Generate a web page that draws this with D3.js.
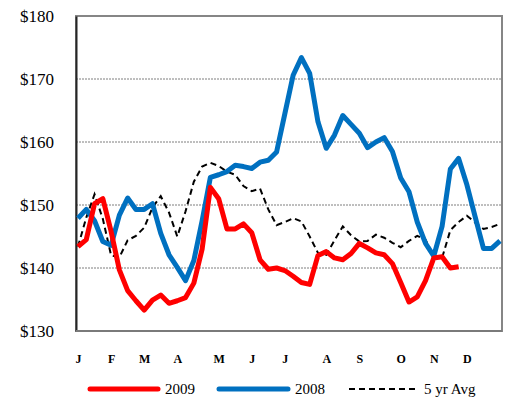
<!DOCTYPE html>
<html>
<head>
<meta charset="utf-8">
<script src="https://cdnjs.cloudflare.com/ajax/libs/d3/7.8.5/d3.min.js"></script>
<style>
  html, body { margin: 0; padding: 0; background: #fff; }
  svg { display: block; }
  svg text { font-family: "Liberation Serif", "Times New Roman", Times, serif; fill: #000; }
</style>
</head>
<body>
<div id="chart"></div>
<script>
// Weekly prices, week 0 = first week of January
const monthLabels = ["J", "F", "M", "A", "M", "J", "J", "A", "S", "O", "N", "D"];
const monthWeeks  = [0, 4, 8, 12, 17, 21, 25, 30, 34, 39, 43, 47];
const yTicks = [130, 140, 150, 160, 170, 180];

const series2009 = [143.4, 144.5, 150.2, 151.0, 145.8, 139.7, 136.4, 134.8, 133.3, 134.9,
  135.7, 134.4, 134.8, 135.3, 137.6, 143.0, 152.8, 151.0, 146.2, 146.2,
  147.0, 145.6, 141.3, 139.8, 140.0, 139.6, 138.7, 137.7, 137.4, 142.0,
  142.6, 141.6, 141.3, 142.3, 143.9, 143.2, 142.4, 142.1, 140.7, 137.7,
  134.6, 135.4, 138.0, 141.6, 141.8, 140.0, 140.2];

const series2008 = [147.9, 149.3, 147.5, 144.2, 143.6, 148.4, 151.1, 149.3, 149.3, 150.2,
  145.5, 142.1, 140.1, 138.0, 141.2, 147.5, 154.4, 154.8, 155.3, 156.3,
  156.1, 155.8, 156.8, 157.1, 158.4, 164.5, 170.6, 173.4, 170.9, 163.2,
  159.0, 161.1, 164.2, 162.8, 161.4, 159.1, 160.0, 160.7, 158.5, 154.3,
  152.1, 147.3, 143.9, 141.9, 146.6, 155.7, 157.4, 153.2, 148.1, 143.1,
  143.1, 144.3];

const series5yr = [143.4, 148.0, 151.7, 147.8, 142.0, 141.7, 144.4, 145.1, 146.4, 149.6,
  151.4, 148.8, 145.0, 149.0, 153.7, 156.1, 156.7, 156.2, 155.3, 154.8,
  153.0, 152.2, 152.6, 149.3, 146.8, 147.3, 147.9, 147.4, 145.0, 142.4,
  142.1, 144.4, 146.6, 145.2, 144.2, 144.3, 145.3, 144.8, 144.0, 143.3,
  144.3, 145.1, 144.5, 141.8, 141.6, 146.0, 147.3, 148.3, 147.2, 146.2,
  146.5, 147.0];

const W = 511, H = 401;
const plot = { left: 76, top: 16, right: 502, bottom: 331 };
const serif = '"Liberation Serif", "Times New Roman", Times, serif';

const svg = d3.select("#chart").append("svg")
  .attr("width", W).attr("height", H);

const x = d3.scaleLinear().domain([0, 51]).range([78, 500]);
const y = d3.scaleLinear().domain([130, 180]).range([plot.bottom, plot.top]);

// dotted horizontal gridlines
svg.append("g")
  .selectAll("line")
  .data(yTicks.filter(d => d > 130 && d < 180))
  .join("line")
  .attr("x1", plot.left).attr("x2", plot.right)
  .attr("y1", d => y(d)).attr("y2", d => y(d))
  .attr("stroke", "#7f7f7f")
  .attr("stroke-width", 1)
  .attr("stroke-dasharray", "2,1");

// plot frame
svg.append("rect")
  .attr("x", plot.left).attr("y", plot.top)
  .attr("width", plot.right - plot.left)
  .attr("height", plot.bottom - plot.top)
  .attr("fill", "none")
  .attr("stroke", "#868686")
  .attr("stroke-width", 2);

// y axis
const yAxis = d3.axisLeft(y)
  .tickValues(yTicks)
  .tickFormat(d => "$" + d)
  .tickSize(0)
  .tickPadding(22);
const gy = svg.append("g")
  .attr("transform", `translate(${plot.left},0)`)
  .call(yAxis)
  .attr("font-family", null)
  .attr("font-size", null);
gy.select(".domain").attr("stroke", "#262626").attr("stroke-width", 2);
gy.selectAll("text")
  .style("font-family", serif)
  .style("font-size", "17px");

// bottom axis line
svg.append("line")
  .attr("x1", plot.left).attr("x2", plot.right)
  .attr("y1", plot.bottom).attr("y2", plot.bottom)
  .attr("stroke", "#7a7a7a").attr("stroke-width", 2);

// month labels
const xAxis = d3.axisBottom(x)
  .tickValues(monthWeeks)
  .tickFormat((d, i) => monthLabels[i])
  .tickSize(0)
  .tickPadding(23);
const gx = svg.append("g")
  .attr("transform", `translate(0,${plot.bottom})`)
  .call(xAxis)
  .attr("font-family", null)
  .attr("font-size", null);
gx.select(".domain").remove();
gx.selectAll("text")
  .style("font-family", serif)
  .style("font-size", "12px")
  .style("font-weight", "bold");

const line = d3.line()
  .x((d, i) => x(i))
  .y(d => y(d));

svg.append("path").datum(series5yr)
  .attr("d", line)
  .attr("fill", "none")
  .attr("stroke", "#000")
  .attr("stroke-width", 2)
  .attr("stroke-dasharray", "6,4");

svg.append("path").datum(series2008)
  .attr("d", line)
  .attr("fill", "none")
  .attr("stroke", "#0070C0")
  .attr("stroke-width", 5)
  .attr("stroke-linejoin", "round");

svg.append("path").datum(series2009)
  .attr("d", line)
  .attr("fill", "none")
  .attr("stroke", "#FF0000")
  .attr("stroke-width", 5)
  .attr("stroke-linejoin", "round");

// legend
const legend = [
  { name: "2009", color: "#FF0000", width: 5, dash: null, x1: 90, x2: 158, tx: 165 },
  { name: "2008", color: "#0070C0", width: 5, dash: null, x1: 219, x2: 288, tx: 295 },
  { name: "5 yr Avg", color: "#000", width: 2, dash: "6,4", x1: 349, x2: 416, tx: 424 }
];
const lg = svg.append("g");
legend.forEach(l => {
  lg.append("line")
    .attr("x1", l.x1).attr("x2", l.x2)
    .attr("y1", 389).attr("y2", 389)
    .attr("stroke", l.color)
    .attr("stroke-width", l.width)
    .attr("stroke-linecap", l.dash ? "butt" : "round")
    .attr("stroke-dasharray", l.dash);
  lg.append("text")
    .attr("x", l.tx).attr("y", 389)
    .attr("dy", "0.35em")
    .style("font-family", serif)
    .style("font-size", "15px")
    .text(l.name);
});
</script>
</body>
</html>
